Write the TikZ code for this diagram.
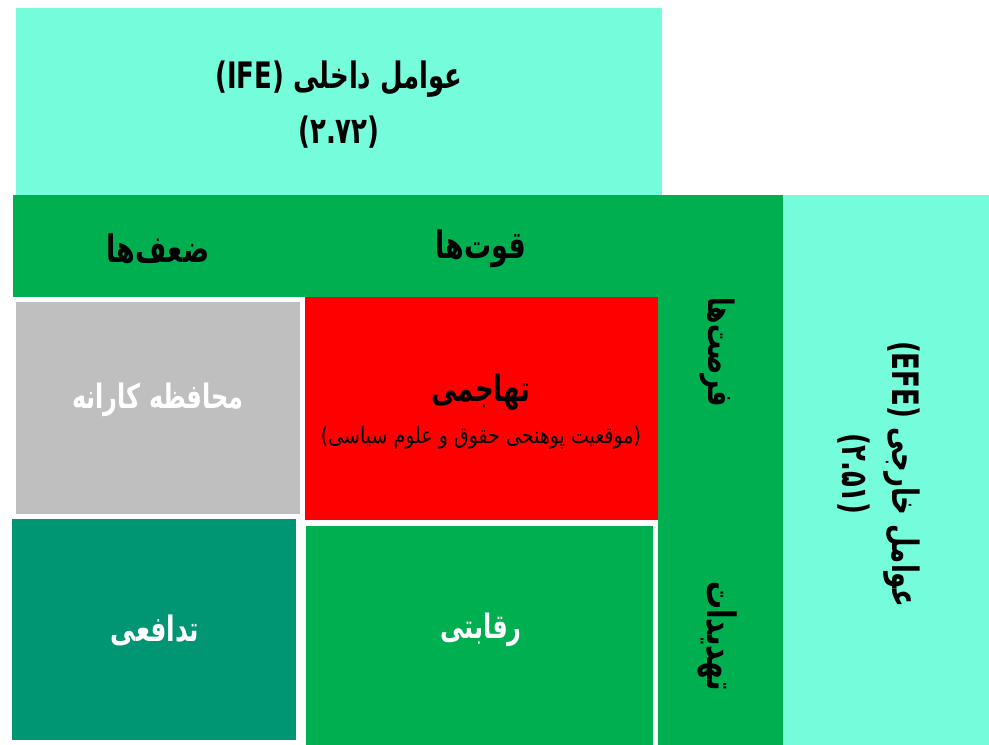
\documentclass[tikz,border=0pt]{standalone}
\usepackage{graphicx}
\usepackage{fontspec}
\setmainfont{DejaVu Sans}
\newfontfamily\ar[Script=Arabic]{DejaVu Sans}
\TeXXeTstate=1
\newcommand\tallx[1]{\scalebox{1}[1.4]{#1}}
\definecolor{cyanc}{RGB}{117,253,219}
\definecolor{greenc}{RGB}{0,176,80}
\definecolor{tealc}{RGB}{0,150,115}
\definecolor{grayc}{RGB}{191,191,191}
\definecolor{redc}{RGB}{255,0,0}
\begin{document}
\begin{tikzpicture}[x=1pt,y=-1pt,
  blk/.style={anchor=north west,inner sep=0pt,outer sep=0pt,draw=none},
  lbl/.style={font=\ar\bfseries\fontsize{26}{55}\selectfont,align=center,text=black},
  hdr/.style={font=\ar\bfseries\fontsize{27}{30}\selectfont,align=center,text=black},
  wlbl/.style={font=\ar\bfseries\fontsize{24}{30}\selectfont,align=center,text=white},
  sub/.style={font=\ar\fontsize{19}{22}\selectfont,align=center,text=black}]
\useasboundingbox (0,0) rectangle (989,745);
\fill[white] (0,0) rectangle (989,745);
% blocks
\node[blk,fill=cyanc,minimum width=646pt,minimum height=187pt] (ife) at (16,8) {};
\node[blk,fill=greenc,minimum width=770pt,minimum height=102pt] (band) at (13,195) {};
\node[blk,fill=greenc,minimum width=125pt,minimum height=448pt] (col) at (658,297) {};
\node[blk,fill=cyanc,minimum width=206pt,minimum height=550pt] (efe) at (783,195) {};
\node[blk,fill=grayc,minimum width=284pt,minimum height=212pt] (cons) at (16,302) {};
\node[blk,fill=redc,minimum width=353pt,minimum height=223pt] (agg) at (305,297) {};
\node[blk,fill=tealc,minimum width=284pt,minimum height=221pt] (def) at (12,519) {};
\node[blk,fill=greenc,minimum width=347pt,minimum height=219pt] (comp) at (306,526) {};
% texts
\node[lbl] (ifet) at (339,105) {\tallx{\beginR عوامل داخلی \beginL(IFE)\endL\endR}\\\tallx{\beginL(۲.۷۲)\endL}};
\node[hdr] (wk) at (158,249) {\tallx{\beginR ضعف‌ها\endR}};
\node[hdr] (st) at (481,249) {\tallx{\beginR قوت‌ها\endR}};
\node[lbl] (aggt) at (481,392) {\tallx{\beginR تهاجمی\endR}};
\node[sub] (aggs) at (481,438) {\scalebox{1}[1.2]{\beginR (موقعیت پوهنحی حقوق و علوم سیاسی)\endR}};
\node[wlbl] (const) at (158,400) {\tallx{\beginR محافظه کارانه\endR}};
\node[wlbl,font=\ar\bfseries\fontsize{25}{30}\selectfont] (deft) at (155,630) {\tallx{\beginR تدافعی\endR}};
\node[wlbl] (compt) at (481,630) {\tallx{\beginR رقابتی\endR}};
\node[hdr,font=\ar\bfseries\fontsize{25}{30}\selectfont,rotate=-90] (opp) at (718,352) {\tallx{\beginR فرصت‌ها\endR}};
\node[hdr,font=\ar\bfseries\fontsize{28}{30}\selectfont,rotate=-90] (thr) at (718,636) {\tallx{\beginR تهدیدات\endR}};
\node[lbl,font=\ar\bfseries\fontsize{26}{50}\selectfont,rotate=-90] (efet) at (879,474) {\tallx{\beginR عوامل خارجی \beginL(EFE)\endL\endR}\\\tallx{\beginL(۲.۵۱)\endL}};
\end{tikzpicture}
\end{document}
